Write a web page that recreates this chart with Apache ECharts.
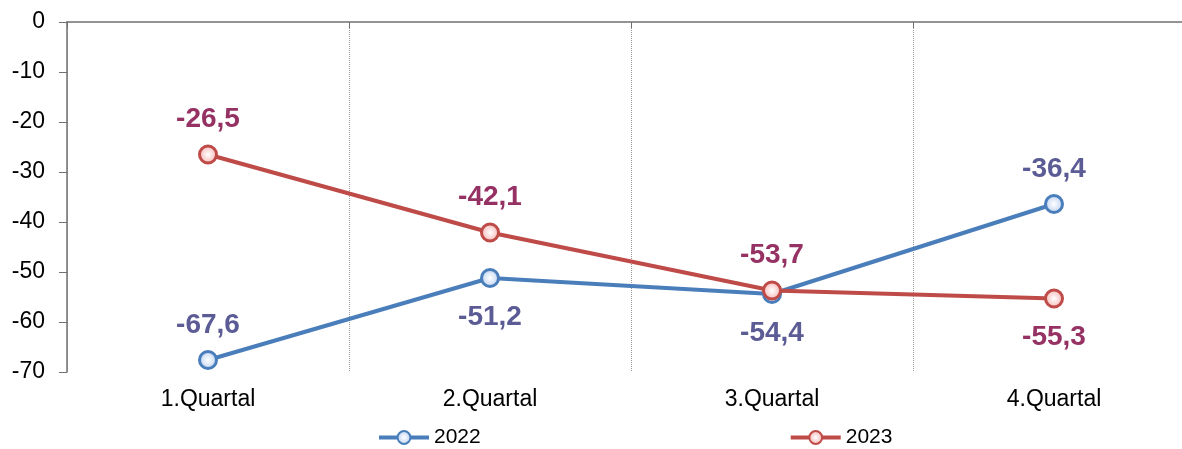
<!DOCTYPE html>
<html>
<head>
<meta charset="utf-8">
<script src="https://cdn.jsdelivr.net/npm/echarts@6/dist/echarts.min.js"></script>
<style>
  html, body { margin: 0; padding: 0; background: #fff; overflow: hidden; }
  #chart { width: 1196px; height: 449px; }
</style>
</head>
<body>
<div id="chart"></div>
<script>
var categories = ['1.Quartal', '2.Quartal', '3.Quartal', '4.Quartal'];
var values2022 = [-67.6, -51.2, -54.4, -36.4];
var values2023 = [-26.5, -42.1, -53.7, -55.3];
var pos2022 = ['top', 'bottom', 'bottom', 'top'];
var pos2023 = ['top', 'top', 'top', 'bottom'];

var font = 'Liberation Sans, Arial, sans-serif';

function fmt(v) {
  return v.toFixed(1).replace('.', ',');
}

function makeData(values, positions) {
  return values.map(function (v, i) {
    return {
      value: v,
      label: {
        position: positions[i],
        distance: positions[i] === 'top' ? 11 : 15
      }
    };
  });
}

function makeSeries(name, values, positions, lineColor, fillColor, labelColor) {
  return {
    name: name,
    type: 'line',
    data: makeData(values, positions),
    symbol: 'circle',
    symbolSize: 17,
    lineStyle: { color: lineColor, width: 4 },
    itemStyle: {
      color: {
        type: 'radial', x: 0.5, y: 0.5, r: 0.5,
        colorStops: [{ offset: 0, color: '#ffffff' }, { offset: 1, color: fillColor }]
      },
      borderColor: lineColor,
      borderWidth: 3
    },
    label: {
      show: true,
      color: labelColor,
      fontFamily: font,
      fontWeight: 'bold',
      fontSize: 28,
      formatter: function (p) { return fmt(p.value); }
    },
    emphasis: { disabled: true },
    z: name === '2023' ? 3 : 2
  };
}

var chart = echarts.init(document.getElementById('chart'));
chart.setOption({
  animation: false,
  backgroundColor: '#ffffff',
  grid: { left: 67, right: 1, top: 22, bottom: 77 },
  legend: {
    top: 427,
    left: 377,
    padding: 0,
    itemWidth: 50,
    itemHeight: 16,
    itemGap: 308,
    lineStyle: { width: 4 },
    textStyle: { fontFamily: font, fontSize: 21, color: '#000' },
    data: ['2022', '2023']
  },
  xAxis: [
    {
      type: 'category',
      data: categories,
      position: 'bottom',
      axisLine: { show: false },
      axisTick: { show: false },
      axisLabel: { fontFamily: font, fontSize: 23, color: '#000', margin: 16 },
      splitLine: { show: true, lineStyle: { color: '#9a9a9a', type: 'dotted', width: 1 } }
    },
    {
      type: 'category',
      data: categories,
      position: 'top',
      axisLine: { show: true, lineStyle: { color: '#707070', width: 1.5 } },
      axisTick: { show: true, inside: true, length: 6, lineStyle: { color: '#707070' } },
      axisLabel: { show: false },
      splitLine: { show: false }
    }
  ],
  yAxis: {
    type: 'value',
    min: -70,
    max: 0,
    interval: 10,
    axisLine: { show: true, lineStyle: { color: '#707070', width: 1.5 } },
    axisTick: { show: true, length: 8, lineStyle: { color: '#707070' } },
    axisLabel: { fontFamily: font, fontSize: 23, color: '#000', margin: 22 },
    splitLine: { show: false }
  },
  series: [
    makeSeries('2022', values2022, pos2022, '#4a7ebb', '#b9cff0', '#5b5b95'),
    makeSeries('2023', values2023, pos2023, '#be4b48', '#f6b2b0', '#963163')
  ]
});
</script>
</body>
</html>
